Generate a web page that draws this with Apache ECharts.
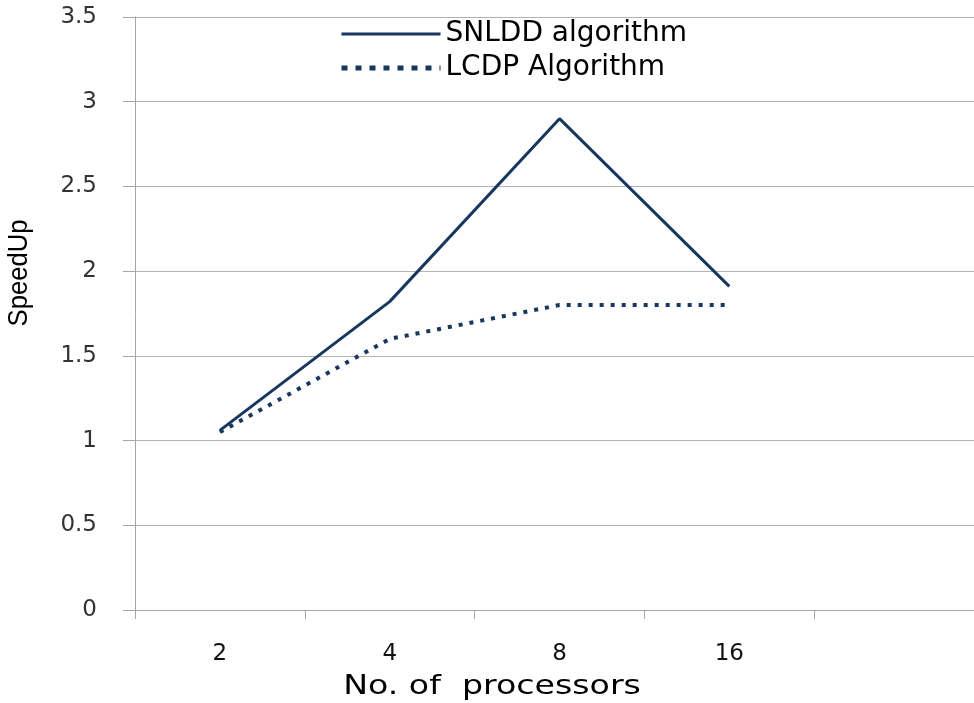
<!DOCTYPE html>
<html>
<head>
<meta charset="utf-8">
<script src="https://cdn.jsdelivr.net/npm/echarts@6/dist/echarts.min.js"></script>
<style>
  html, body { margin: 0; padding: 0; background: #fff; }
  #chart { width: 974px; height: 703px; }
</style>
</head>
<body>
<div id="chart"></div>
<script>
// Processor counts (last slot left empty on the axis)
const processors = ['2', '4', '8', '16', ''];
// Speedup per algorithm
const snlddSpeedup = [1.06, 1.82, 2.9, 1.91];
const lcdpSpeedup = [1.05, 1.6, 1.8, 1.8];
// Value axis range
const yMin = 0, yMax = 3.5, yStep = 0.5;
// Axis titles
const xTitle = 'No. of  processors';
const yTitle = 'SpeedUp';

const navy = '#17375e';
const chart = echarts.init(document.getElementById('chart'), null, { renderer: 'canvas' });

chart.setOption({
  backgroundColor: '#ffffff',
  animation: false,
  grid: { left: 135, right: -10, top: 17, bottom: 93, containLabel: false, outerBoundsMode: 'none' },
  legend: {
    orient: 'vertical',
    left: 334,
    top: 15,
    itemWidth: 99,
    itemHeight: 14,
    itemGap: 6,
    itemStyle: { opacity: 0 },
    textStyle: { fontFamily: 'DejaVu Sans', fontSize: 28, color: '#000', padding: [0, 0, 0, 0] },
    data: [
      { name: 'SNLDD algorithm', lineStyle: { width: 3 } },
      { name: 'LCDP Algorithm', lineStyle: { width: 5, type: [6, 8], cap: 'butt' } }
    ]
  },
  // axis titles, drawn with the chart's stretched lettering
  graphic: [
    {
      type: 'text',
      x: 492,
      y: 687,
      scaleX: 1.23,
      style: {
        text: xTitle,
        fontFamily: 'DejaVu Sans',
        fontSize: 27,
        fill: '#000',
        align: 'center',
        verticalAlign: 'middle'
      }
    },
    {
      type: 'text',
      x: 20,
      y: 273,
      rotation: Math.PI / 2,
      scaleX: 0.95,
      style: {
        text: yTitle,
        fontFamily: 'Liberation Sans',
        fontSize: 27,
        fill: '#000',
        align: 'center',
        verticalAlign: 'middle'
      }
    }
  ],
  xAxis: {
    type: 'category',
    data: processors,
    boundaryGap: true,
    axisLine: { show: true, lineStyle: { color: '#a6a6a6', width: 1 } },
    axisTick: { show: true, alignWithLabel: false, length: 9, lineStyle: { color: '#a6a6a6' } },
    axisLabel: { margin: 33, fontFamily: 'DejaVu Sans', fontSize: 23, color: '#111' },
    splitLine: { show: false }
  },
  yAxis: {
    type: 'value',
    min: yMin,
    max: yMax,
    interval: yStep,
    axisLine: { show: true, lineStyle: { color: '#a6a6a6', width: 1 } },
    axisTick: { show: true, inside: false, length: 12, lineStyle: { color: '#a6a6a6' } },
    axisLabel: { margin: 38, fontFamily: 'DejaVu Sans', fontSize: 23, color: '#333' },
    splitLine: { show: true, lineStyle: { color: '#b3b3b3', width: 1 } }
  },
  series: [
    {
      name: 'SNLDD algorithm',
      type: 'line',
      data: snlddSpeedup,
      symbol: 'none',
      color: navy,
      lineStyle: { color: navy, width: 3 }
    },
    {
      name: 'LCDP Algorithm',
      type: 'line',
      data: lcdpSpeedup,
      symbol: 'none',
      color: navy,
      lineStyle: { color: navy, width: 4, type: [4, 7], cap: 'butt' }
    }
  ]
});
</script>
</body>
</html>
